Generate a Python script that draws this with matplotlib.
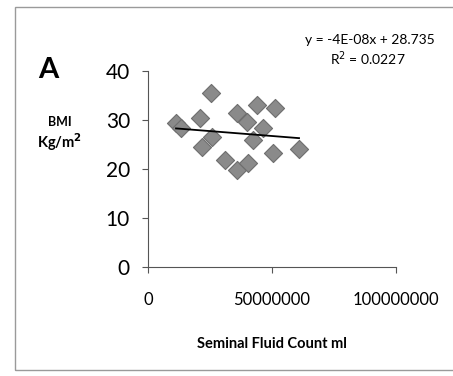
import numpy as np
import matplotlib.pyplot as plt
from matplotlib.patches import Rectangle

plt.rcParams['font.family'] = ['Lato', 'DejaVu Sans']

# seminal fluid count (per ml) and BMI (kg/m2)
count = [11.3e6, 13.3e6, 25.4e6, 21.0e6, 25.8e6, 21.8e6, 31.0e6, 35.9e6, 40.3e6,
         35.9e6, 40.0e6, 44.0e6, 51.2e6, 46.4e6, 42.3e6, 50.4e6, 60.9e6]
bmi = [29.4, 28.4, 35.5, 30.4, 26.5, 24.5, 21.8, 19.8, 21.2,
       31.4, 29.6, 33.1, 32.4, 28.4, 25.9, 23.3, 24.1]

# linear trend as reported
slope = -4e-08
intercept = 28.735
r2 = 0.0227

xticks = [0, 50000000, 100000000]
yticks = [0, 10, 20, 30, 40]

fig = plt.figure(figsize=(4.53, 3.76), dpi=100)
ax = fig.add_axes([148 / 453, 109 / 376, 248 / 453, 196 / 376])

ax.scatter(count, bmi, marker='D', s=85, color='#8a8a8a',
           edgecolors='#6e6e6e', linewidths=0.8, zorder=2)

xl = np.array([min(count), max(count)])
ax.plot(xl, slope * xl + intercept, color='black', lw=1.3, zorder=3)

ax.set_xlim(0, 1e8)
ax.set_ylim(0, 40)
ax.set_xticks(xticks)
ax.set_xticklabels([str(t) for t in xticks], fontsize=12)
ax.set_yticks(yticks)
ax.set_yticklabels([str(t) for t in yticks], fontsize=15)
ax.tick_params(axis='both', length=4, width=0.8, color='#555555')
ax.tick_params(axis='y', pad=9)
ax.tick_params(axis='x', pad=14)
for s in ['top', 'right']:
    ax.spines[s].set_visible(False)
for s in ['left', 'bottom']:
    ax.spines[s].set_color('#555555')
    ax.spines[s].set_linewidth(0.8)

ax.set_xlabel('Seminal Fluid Count ml', fontsize=10.5, fontweight='bold', labelpad=21)

fig.text(60 / 453, 1 - 122 / 376, 'BMI', fontsize=9, fontweight='bold', ha='center', va='center')
fig.text(60 / 453, 1 - 142 / 376, 'Kg/m$^{\\mathbf{2}}$', fontsize=10.5, fontweight='bold',
         ha='center', va='center')
fig.text(48 / 453, 1 - 70 / 376, 'A', fontsize=21, fontweight='bold', ha='center', va='center')

fig.text(370 / 453, 1 - 40 / 376, 'y = -4E-08x + 28.735', fontsize=10, ha='center', va='center')
fig.text(368 / 453, 1 - 59 / 376, 'R$^{2}$ = %.4f' % r2, fontsize=10, ha='center', va='center')

# panel frame
fig.patches.append(Rectangle((15 / 453, 6 / 376), 0.98, 1 - 13 / 376,
                             transform=fig.transFigure, fill=False,
                             edgecolor='#9a9a9a', lw=1.0))

fig.savefig('out.png', dpi=100)
